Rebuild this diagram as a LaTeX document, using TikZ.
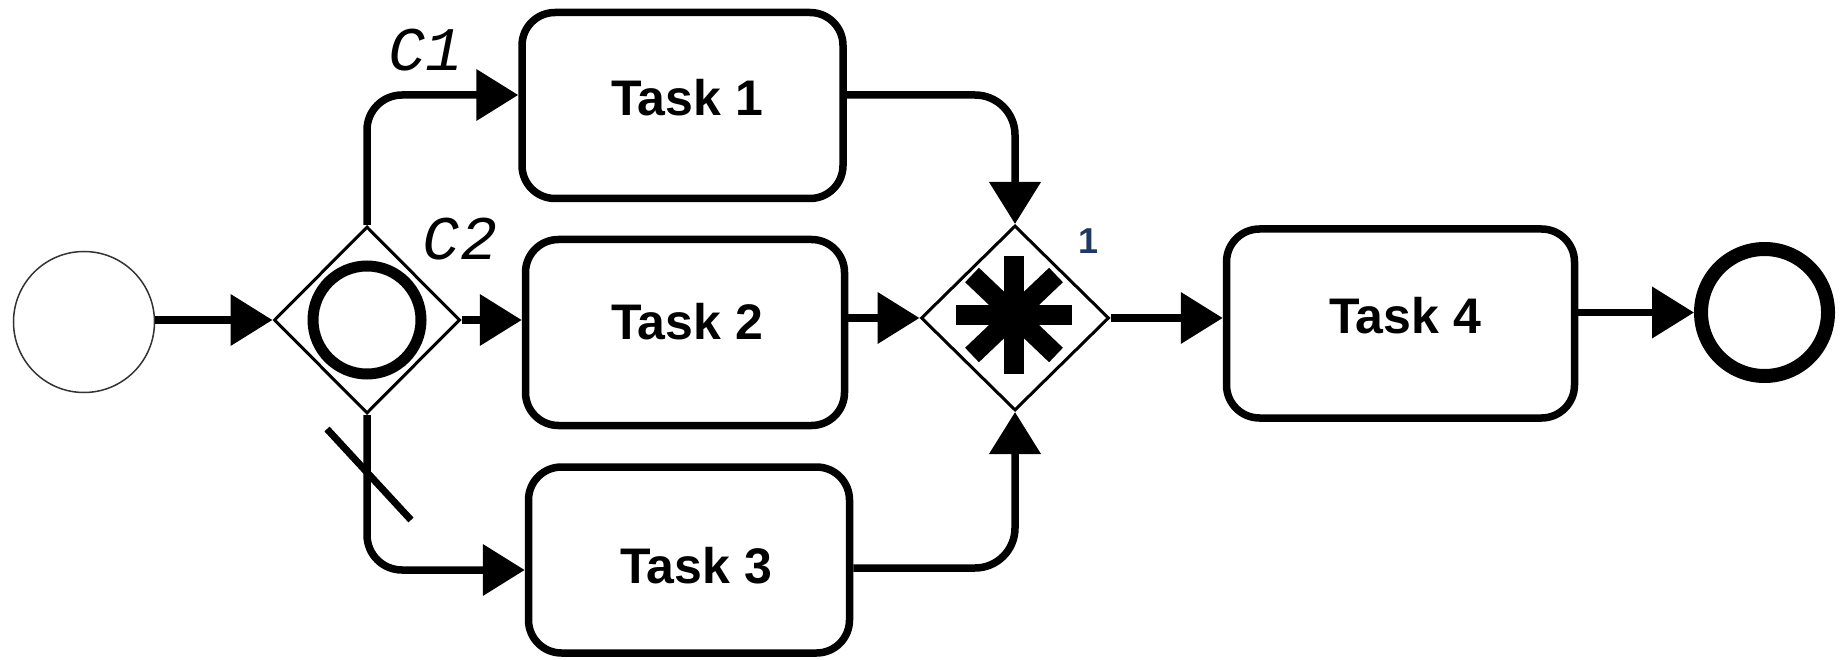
\documentclass[tikz,border=0pt]{standalone}
\usepackage{fontspec}
\setmainfont{Liberation Sans}
\setmonofont{Liberation Mono}
\usetikzlibrary{shapes.geometric,arrows.meta,calc}
\definecolor{navy}{RGB}{31,56,100}
\begin{document}
\begin{tikzpicture}[x=1pt,y=-1pt,
  taskbox/.style={draw=black,line width=7.5pt,rounded corners=33pt,fill=white,minimum width=321pt,minimum height=186pt,inner sep=0pt},
  tasktext/.style={font=\fontsize{50}{60}\selectfont\bfseries,inner sep=0pt},
  gwbox/.style={draw=black,line width=3pt,diamond,fill=white,inner sep=0pt,minimum width=186pt,minimum height=187pt},
  flow/.style={line width=7.5pt,-{Triangle[length=42pt,width=50pt]}},
  star/.style={line width=20pt},
  cond/.style={font=\fontsize{62}{70}\selectfont\ttfamily\itshape,inner sep=0pt},
]
\useasboundingbox (0,0) rectangle (1843,660);
% events
\node[circle,draw=black!80,line width=1.5pt,fill=white,minimum size=141pt,inner sep=0pt] (start) at (84,322) {};
\node[circle,draw=black,line width=14pt,fill=white,minimum size=127pt,inner sep=0pt] (end) at (1764.5,312.5) {};
% gateways
\node[gwbox] (gw1) at (367,320) {};
\node[circle,draw=black,line width=11pt,minimum size=108pt,inner sep=0pt] (gw1c) at (gw1.center) {};
\node[gwbox,minimum width=188pt,minimum height=185pt] (gw2) at (1015,318) {};
\coordinate (ast) at ($(gw2.center)+(-1,-3)$);
\draw[star] ($(ast)+(-58,0)$) -- ($(ast)+(58,0)$);
\draw[star] ($(ast)+(0,-59)$) -- ($(ast)+(0,59)$);
\draw[star] ($(ast)+(-42,-40)$) -- ($(ast)+(42,40)$);
\draw[star] ($(ast)+(42,-40)$) -- ($(ast)+(-42,40)$);
\node[font=\fontsize{36}{40}\selectfont\bfseries,text=navy,inner sep=0pt] (one) at (1088,241) {1};
% tasks
\node[taskbox] (t1) at (682.5,105.5) {};
\node[taskbox,minimum width=319pt,minimum height=186pt] (t2) at (685,332.5) {};
\node[taskbox] (t3) at (689,560) {};
\node[taskbox,minimum width=348pt,minimum height=189pt] (t4) at (1400.5,323.5) {};
\node[tasktext] (t1l) at (687,98) {Task 1};
\node[tasktext] (t2l) at (687,322) {Task 2};
\node[tasktext] (t3l) at (696,566) {Task 3};
\node[tasktext] (t4l) at (1405,316) {Task 4};
% conditions
\node[cond] (c1) at (426,50) {C1};
\node[cond] (c2) at (460,239) {C2};
% flows
\draw[flow] (start.east |- gw1.west) -- (gw1.west);
\draw[flow,rounded corners=35pt] (gw1.north) |- (t1.west |- 0,95);
\draw[flow] (gw1.east) -- (gw1.east -| t2.west);
\draw[flow,rounded corners=35pt] (gw1.south) |- (t3.west |- 0,570);
\draw[line width=7pt] (327,429) -- (411,520);
\draw[flow,rounded corners=40pt] (t1.east |- 0,95) -| (gw2.north);
\draw[flow] (t2.east |- gw2.west) -- (gw2.west);
\draw[flow,rounded corners=40pt] (t3.east |- 0,568) -| (gw2.south);
\draw[flow] (gw2.east) -- (gw2.east -| t4.west);
\draw[flow] (t4.east |- end.west) -- (end.west);
\end{tikzpicture}
\end{document}
